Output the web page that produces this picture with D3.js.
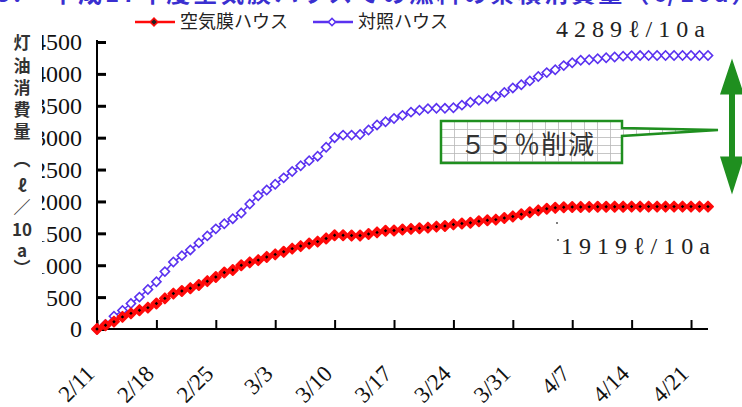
<!DOCTYPE html>
<html>
<head>
<meta charset="utf-8">
<script src="https://cdn.jsdelivr.net/npm/d3@7"></script>
<style>
  html, body { margin: 0; padding: 0; background: #fff; }
  svg { display: block; }
</style>
</head>
<body>
<div id="chart"></div>
<script>
// Cumulative kerosene use (ℓ/10a), one value per day from 2/11
const airFilmHouse = [
  0, 60, 115, 190, 245, 295, 335, 400, 480, 555,
  595, 640, 690, 750, 815, 885, 925, 1000, 1045, 1080,
  1130, 1170, 1210, 1260, 1300, 1340, 1370, 1420, 1470, 1470,
  1465, 1465, 1490, 1515, 1540, 1545, 1560, 1570, 1580, 1590,
  1605, 1615, 1640, 1655, 1665, 1690, 1705, 1715, 1740, 1765,
  1800, 1830, 1860, 1885, 1900, 1908, 1912, 1914, 1915, 1916,
  1917, 1918, 1918, 1919, 1919, 1919, 1919, 1919, 1919, 1919,
  1919, 1919, 1919
];
const controlHouse = [
  0, 70, 200, 290, 400, 500, 620, 740, 900, 1050,
  1150, 1240, 1350, 1460, 1570, 1650, 1730, 1820, 1960, 2090,
  2180, 2270, 2370, 2470, 2560, 2640, 2710, 2850, 3000, 3040,
  3040, 3050, 3120, 3200, 3250, 3300, 3350, 3400, 3430, 3455,
  3460, 3460, 3470, 3510, 3555, 3585, 3610, 3650, 3710, 3780,
  3830, 3890, 3960, 4020, 4065, 4130, 4175, 4215, 4222, 4238,
  4252, 4265, 4278, 4285, 4287, 4288, 4289, 4289, 4289, 4289,
  4289, 4289, 4289
];
const seriesNames = ["空気膜ハウス", "対照ハウス"];
const tickDays = [0, 7, 14, 21, 28, 35, 42, 49, 56, 63, 70];
const tickDates = ["2/11", "2/18", "2/25", "3/3", "3/10", "3/17", "3/24", "3/31", "4/7", "4/14", "4/21"];
const yTicks = [0, 500, 1000, 1500, 2000, 2500, 3000, 3500, 4000, 4500];
const totalAir = 1919, totalControl = 4289, reductionPct = 55;

const W = 742, H = 407;
const RED = "#ff0a0a", BLUE = "#5a32f0", GREEN = "#1f8f1f";
const SERIF = "'Liberation Serif', 'Times New Roman', serif";
const CJK = "'Noto Sans CJK JP', sans-serif";

const svg = d3.select("#chart").append("svg")
  .attr("width", W).attr("height", H);

svg.append("rect").attr("width", W).attr("height", H).attr("fill", "#fff");

const x = d3.scaleLinear().domain([0, 72]).range([97, 708]);
const y = d3.scaleLinear().domain([0, 4500]).range([329, 42]);

// heading (runs off the top edge)
svg.append("text")
  .attr("x", -4).attr("y", 2)
  .attr("fill", "#3a2fd0")
  .style("font-family", CJK)
  .style("font-size", "24px").style("font-weight", "bold")
  .attr("letter-spacing", "3px")
  .text("3.　平成17年度空気膜ハウスでの燃料の累積消費量（ℓ/10a）");

// grid fill for the callout
const defs = svg.append("defs");
const pat = defs.append("pattern").attr("id", "grid")
  .attr("width", 13).attr("height", 8).attr("patternUnits", "userSpaceOnUse")
  .attr("x", 441).attr("y", 121);
pat.append("rect").attr("width", 13).attr("height", 8).attr("fill", "#fff");
pat.append("path").attr("d", "M0.5,0V8M0,0.5H13").attr("stroke", "#b8b8b8").attr("stroke-width", 0.8);

defs.append("clipPath").attr("id", "ylabClip")
  .append("rect").attr("x", 42).attr("y", 0).attr("width", 60).attr("height", H);

// y axis
const yAxis = svg.append("g").attr("transform", `translate(${x(0)},0)`)
  .call(d3.axisRight(y).tickValues(yTicks).tickSize(9).tickFormat(""));
yAxis.select(".domain").attr("stroke", "#000").attr("stroke-width", 2).attr("d", `M0,${y(4500) - 2}V${y(0)}`);
yAxis.selectAll(".tick line").attr("stroke", "#000").attr("stroke-width", 3);

svg.append("g").attr("clip-path", "url(#ylabClip)")
  .selectAll("text").data(yTicks).join("text")
  .attr("x", 82).attr("y", d => y(d)).attr("dy", "0.35em")
  .attr("text-anchor", "end")
  .style("font-family", SERIF)
  .style("font-size", "24px").attr("fill", "#111")
  .text(d => d);

// x axis
const xAxis = svg.append("g").attr("transform", `translate(0,${y(0)})`)
  .call(d3.axisTop(x).tickValues(tickDays).tickSize(9).tickFormat(""));
xAxis.select(".domain").attr("stroke", "#000").attr("stroke-width", 2).attr("d", `M${x(0)},0H${x(72)}`);
xAxis.selectAll(".tick line").attr("stroke", "#000").attr("stroke-width", 2);

svg.append("g").selectAll("text").data(tickDays).join("text")
  .attr("transform", d => `translate(${x(d) - 1},${375}) rotate(-45)`)
  .attr("text-anchor", "end")
  .style("font-family", SERIF)
  .style("font-size", "23px").attr("fill", "#111")
  .text((d, i) => tickDates[i]);

// y axis title, one glyph per row
const yTitle = [["灯", 43], ["油", 66], ["消", 88], ["費", 110], ["量", 132], ["︵", 160], ["ℓ", 186], ["／", 208], ["10", 230], ["a", 251], ["︶", 268]];
svg.append("text")
  .attr("text-anchor", "middle")
  .style("font-family", CJK)
  .style("font-size", "17px").style("font-weight", "bold").attr("fill", "#333")
  .selectAll("tspan").data(yTitle).join("tspan")
  .attr("x", 22).attr("y", d => d[1] + 6)
  .text(d => d[0]);

// series
const days = airFilmHouse.map((_, i) => i);
const line = vals => d3.line().x(i => x(i)).y(i => y(vals[i]));

svg.append("path").attr("d", line(controlHouse)(days))
  .attr("fill", "none").attr("stroke", BLUE).attr("stroke-width", 1.5);
svg.append("g").selectAll("path").data(days).join("path")
  .attr("transform", i => `translate(${x(i)},${y(controlHouse[i])}) rotate(45)`)
  .attr("d", d3.symbol(d3.symbolSquare, 42)())
  .attr("fill", "#fff").attr("stroke", BLUE).attr("stroke-width", 1.6);

svg.append("path").attr("d", line(airFilmHouse)(days))
  .attr("fill", "none").attr("stroke", RED).attr("stroke-width", 3);
const redPts = svg.append("g").selectAll("g").data(days).join("g")
  .attr("transform", i => `translate(${x(i)},${y(airFilmHouse[i])}) rotate(45)`);
redPts.append("path").attr("d", d3.symbol(d3.symbolSquare, 50)())
  .attr("fill", RED).attr("stroke", RED).attr("stroke-width", 2).attr("stroke-linejoin", "round");
redPts.append("path").attr("d", d3.symbol(d3.symbolSquare, 6)()).attr("fill", "#000");

// legend
const legend = svg.append("g");
const leg = [
  { x0: 135, color: RED, filled: true, name: seriesNames[0] },
  { x0: 313, color: BLUE, filled: false, name: seriesNames[1] }
];
leg.forEach(l => {
  legend.append("line").attr("x1", l.x0).attr("x2", l.x0 + 40).attr("y1", 22).attr("y2", 22)
    .attr("stroke", l.color).attr("stroke-width", 2.5);
  legend.append("path").attr("transform", `translate(${l.x0 + 19},22) rotate(45)`)
    .attr("d", d3.symbol(d3.symbolSquare, l.filled ? 30 : 26)())
    .attr("fill", l.filled ? "#222" : "#fff").attr("stroke", l.filled ? RED : l.color).attr("stroke-width", 1.5);
  legend.append("text").attr("x", l.x0 + 45).attr("y", 22).attr("dy", "0.36em")
    .style("font-family", CJK)
    .style("font-size", "18px").attr("fill", "#222").text(l.name);
});

// totals
svg.append("text").attr("x", 556).attr("y", 37)
  .style("font-family", SERIF)
  .style("font-size", "24px").attr("letter-spacing", "6px").attr("fill", "#222")
  .text(`${totalControl}ℓ/10a`);
svg.append("text").attr("x", 561).attr("y", 254)
  .style("font-family", SERIF)
  .style("font-size", "24px").attr("letter-spacing", "6px").attr("fill", "#222")
  .text(`${totalAir}ℓ/10a`);
svg.append("circle").attr("cx", 557).attr("cy", 223).attr("r", 1).attr("fill", "#555");
svg.append("circle").attr("cx", 558).attr("cy", 240).attr("r", 1).attr("fill", "#555");

// reduction callout
svg.append("path")
  .attr("d", "M441,121H622V128L718,130L622,136V163H441Z")
  .attr("fill", "url(#grid)").attr("stroke", GREEN).attr("stroke-width", 2.5)
  .attr("stroke-linejoin", "miter");
const toFullWidth = s => String(s).replace(/[0-9]/g, c => String.fromCharCode(c.charCodeAt(0) + 0xFEE0));
svg.append("text").attr("x", 460).attr("y", 154)
  .style("font-family", CJK)
  .style("font-size", "26px").attr("letter-spacing", "1px").attr("fill", "#333")
  .text(`${toFullWidth(reductionPct)}％削減`);

// double-headed arrow between the two totals
const ax = 732, yTop = y(totalControl) + 3, yBot = y(totalAir) - 12;
svg.append("path")
  .attr("d", `M${ax},${yTop}L${ax + 12},${yTop + 36}H${ax + 3}V${yBot - 38}H${ax + 12}L${ax},${yBot}L${ax - 12},${yBot - 38}H${ax - 3}V${yTop + 36}H${ax - 12}Z`)
  .attr("fill", GREEN);
</script>
</body>
</html>
